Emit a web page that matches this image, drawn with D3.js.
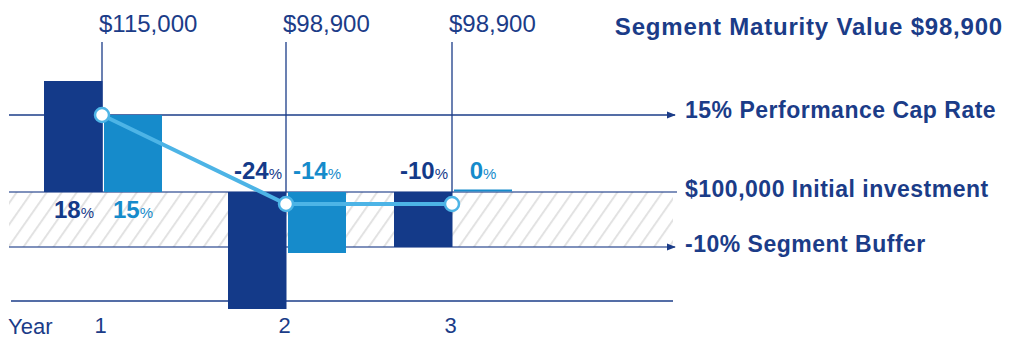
<!DOCTYPE html>
<html>
<head>
<meta charset="utf-8">
<script src="https://cdn.jsdelivr.net/npm/d3@7"></script>
<style>
  html, body { margin: 0; padding: 0; background: #fff; }
  svg { display: block; }
</style>
</head>
<body>
<svg id="chart" width="1009" height="339"></svg>
<script>
// ---- data ----
const years = ["1", "2", "3"];
const indexReturns = [18, -24, -10];      // dark bars (%)
const creditedReturns = [15, -14, 0];     // light bars (%)
const accountValues = [115000, 98900, 98900];
const accountLabels = ["$115,000", "$98,900", "$98,900"];
const capRate = 15;
const bufferRate = -10;
const initialInvestment = 100000;
const refLevels = [15, 0, -10];
const refLabels = ["15% Performance Cap Rate", "$100,000 Initial investment", "-10% Segment Buffer"];
const refArrows = [true, false, true];
const titleText = "Segment Maturity Value $98,900";
const axisTitle = "Year";

// ---- styles ----
const NAVY = "#1b3c88";
const DARK = "#143a89";
const LIGHT = "#168bcb";
const LINE = "#4db4e6";
const HATCH = "#e2e2e2";
const FONT = "'Liberation Sans', Arial, sans-serif";

const svg = d3.select("#chart");

// ---- scales ----
const x = d3.scaleOrdinal().domain(years).range([102, 286, 452]);
const y = d3.scaleLinear().domain([-24, -14, -10, 0, 15, 18]).range([309, 253, 247, 192, 115, 81]);
const yVal = d3.scaleLinear().domain([98900, initialInvestment, 115000]).range([204, 192, 115]);

const plotLeft = 9, plotRight = 673, axisY = 301;
const barW = 58, barGap = 2;

// ---- defs ----
const defs = svg.append("defs");
const pat = defs.append("pattern")
  .attr("id", "hatch").attr("patternUnits", "userSpaceOnUse")
  .attr("width", 12.3).attr("height", 12.3)
  .attr("patternTransform", "rotate(35)");
pat.append("line").attr("x1", 1).attr("y1", -2).attr("x2", 1).attr("y2", 15)
  .attr("stroke", HATCH).attr("stroke-width", 2);

defs.append("marker")
  .attr("id", "arrow").attr("viewBox", "0 0 10 10")
  .attr("refX", 9).attr("refY", 5)
  .attr("markerWidth", 9).attr("markerHeight", 9)
  .attr("markerUnits", "userSpaceOnUse")
  .attr("orient", "auto")
  .append("path").attr("d", "M0,1 L10,5 L0,9 Z").attr("fill", NAVY);

// ---- buffer hatch zone ----
svg.append("rect")
  .attr("x", plotLeft).attr("width", plotRight - plotLeft)
  .attr("y", y(0)).attr("height", y(bufferRate) - y(0))
  .attr("fill", "url(#hatch)");

// ---- vertical year lines ----
svg.append("g").selectAll("line").data(years).join("line")
  .attr("x1", d => x(d)).attr("x2", d => x(d))
  .attr("y1", 42).attr("y2", y(0))
  .attr("stroke", NAVY).attr("stroke-width", 1.3);

// ---- reference lines ----
const refG = svg.append("g");
refLevels.forEach((lv, i) => {
  refG.append("line")
    .attr("x1", plotLeft).attr("x2", refArrows[i] ? plotRight + 2 : plotRight + 4)
    .attr("y1", y(lv)).attr("y2", y(lv))
    .attr("stroke", NAVY).attr("stroke-width", 1.4)
    .attr("stroke-opacity", lv === capRate ? 1 : 0.75)
    .attr("marker-end", refArrows[i] ? "url(#arrow)" : null);
});

// ---- x axis ----
svg.append("line")
  .attr("x1", plotLeft + 2).attr("x2", plotRight)
  .attr("y1", axisY).attr("y2", axisY)
  .attr("stroke", NAVY).attr("stroke-width", 1.4);

const xAxis = svg.append("g")
  .attr("transform", `translate(0,${axisY})`)
  .call(d3.axisBottom(x).tickSize(0).tickPadding(16));
xAxis.select(".domain").remove();
xAxis.selectAll("text")
  .attr("font-family", FONT).attr("font-size", 22).attr("fill", NAVY)
  .attr("dx", -2);

svg.append("text")
  .attr("x", 8).attr("y", 334)
  .attr("font-family", FONT).attr("font-size", 22).attr("fill", NAVY)
  .text(axisTitle);

// ---- bars ----
const barData = years.map((yr, i) => ({ yr, idx: indexReturns[i], cred: creditedReturns[i] }));

svg.append("g").selectAll("rect").data(barData).join("rect")
  .attr("x", d => x(d.yr) - barW)
  .attr("width", barW + 0.5)
  .attr("y", d => Math.min(y(d.idx), y(0)))
  .attr("height", d => Math.abs(y(d.idx) - y(0)))
  .attr("fill", DARK);

svg.append("g").selectAll("rect").data(barData).join("rect")
  .attr("x", d => x(d.yr) + barGap)
  .attr("width", barW)
  .attr("y", d => d.cred === 0 ? y(0) - 2.5 : Math.min(y(d.cred), y(0)))
  .attr("height", d => d.cred === 0 ? 2 : Math.abs(y(d.cred) - y(0)))
  .attr("fill", LIGHT);

// ---- bar labels ----
function pctLabel(g, val, cx, color) {
  const t = g.append("text")
    .attr("x", cx)
    .attr("y", val > 0 ? y(0) + 26 : y(0) - 13)
    .attr("text-anchor", "middle")
    .attr("font-family", FONT).attr("fill", color);
  t.append("tspan").attr("font-size", 24).attr("font-weight", 700).text(val);
  t.append("tspan").attr("font-size", 15).attr("font-weight", 400).text("%");
}
const lblG = svg.append("g");
barData.forEach(d => {
  pctLabel(lblG, d.idx, x(d.yr) - barW / 2 + 1, DARK);
  pctLabel(lblG, d.cred, x(d.yr) + barGap + barW / 2, LIGHT);
});

// ---- account value line ----
const valData = years.map((yr, i) => ({ yr, v: accountValues[i] }));
svg.append("path")
  .datum(valData)
  .attr("d", d3.line().x(d => x(d.yr)).y(d => yVal(d.v)))
  .attr("fill", "none").attr("stroke", LINE).attr("stroke-width", 4);

svg.append("g").selectAll("circle").data(valData).join("circle")
  .attr("cx", d => x(d.yr)).attr("cy", d => yVal(d.v))
  .attr("r", 7).attr("fill", "#fff")
  .attr("stroke", LINE).attr("stroke-width", 2.5);

// ---- account value labels ----
svg.append("g").selectAll("text").data(years).join("text")
  .attr("x", d => x(d) - 3).attr("y", 32)
  .attr("font-family", FONT).attr("font-size", 24).attr("fill", NAVY)
  .text((d, i) => accountLabels[i]);

// ---- reference labels ----
svg.append("g").selectAll("text").data(refLevels).join("text")
  .attr("x", 685).attr("y", d => y(d) + (d === capRate ? 3 : 5))
  .attr("font-family", FONT).attr("font-size", 23).attr("font-weight", 700)
  .attr("letter-spacing", 0.5)
  .attr("fill", NAVY)
  .text((d, i) => refLabels[i]);

// ---- title ----
svg.append("text")
  .attr("x", 1003).attr("y", 35)
  .attr("text-anchor", "end")
  .attr("font-family", FONT).attr("font-size", 24).attr("font-weight", 700)
  .attr("letter-spacing", 0.8)
  .attr("fill", NAVY)
  .text(titleText);
</script>
</body>
</html>
